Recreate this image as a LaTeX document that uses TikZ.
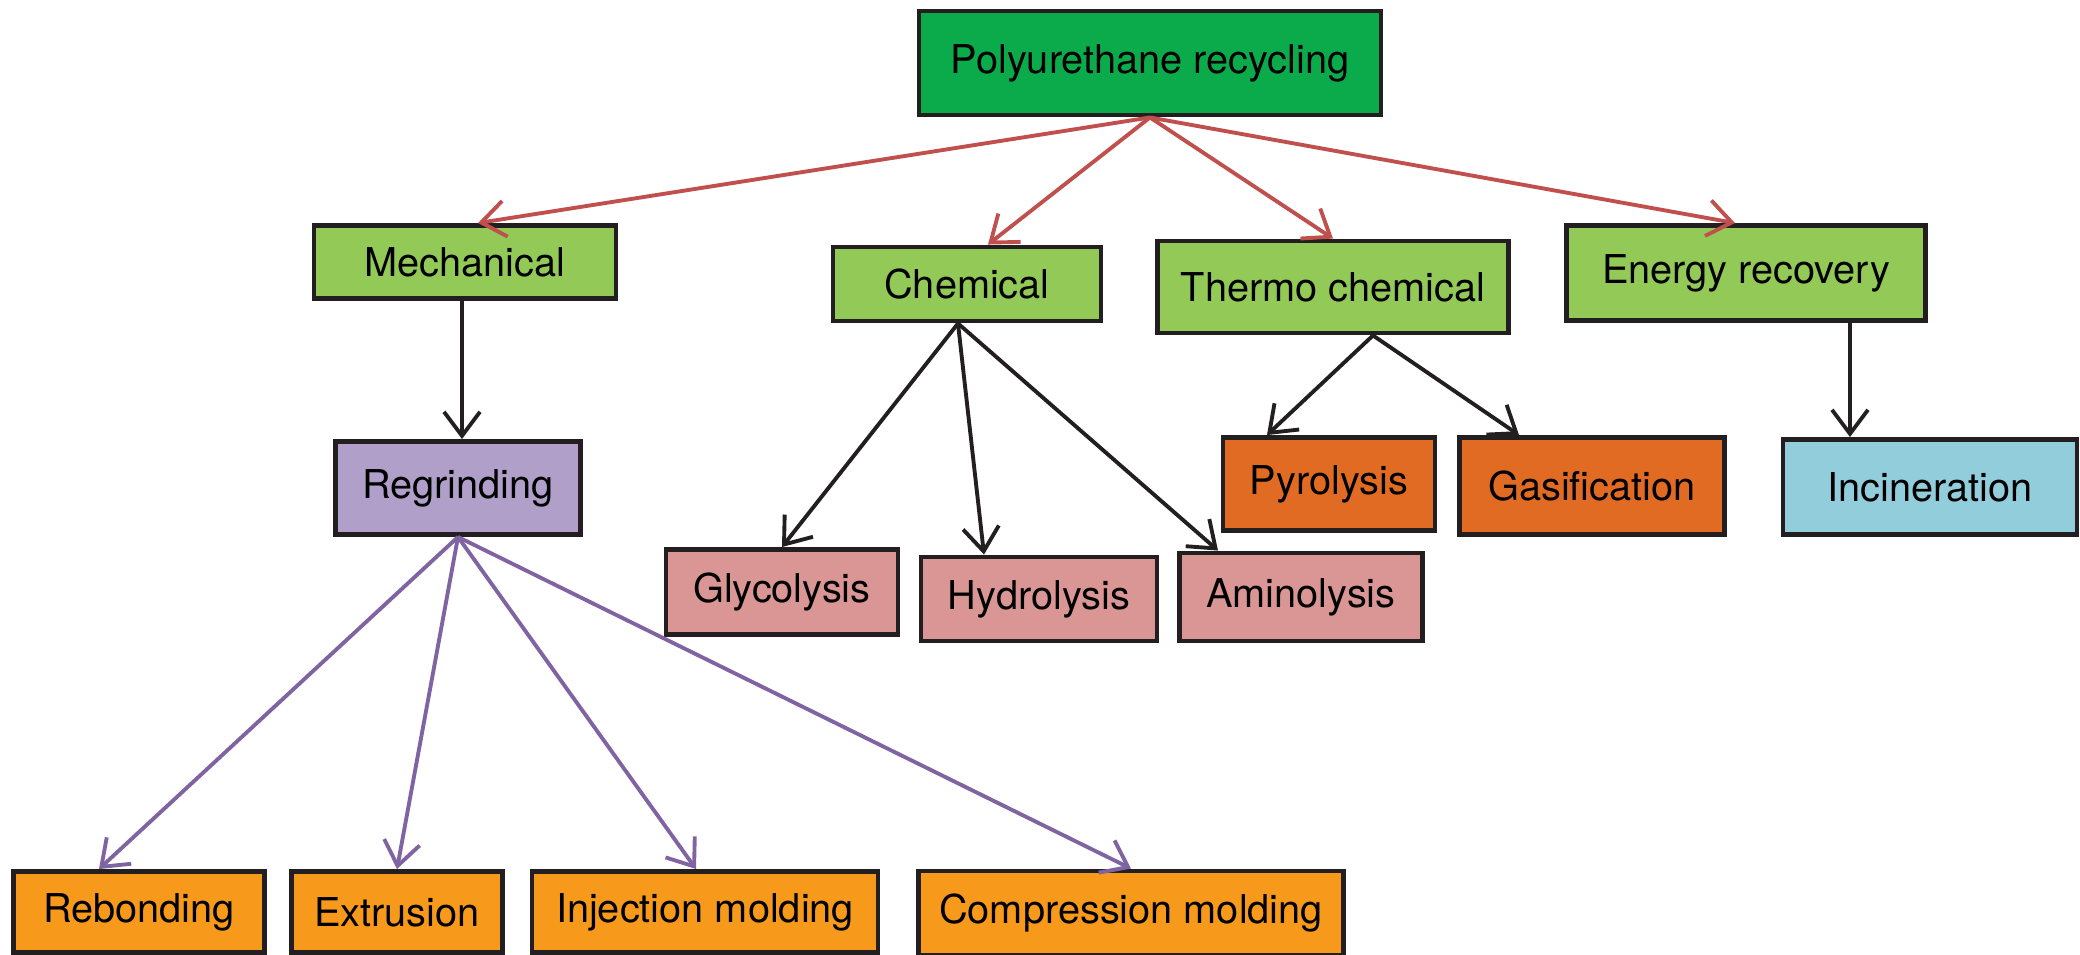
\documentclass[tikz,border=0pt]{standalone}
\usepackage{fontspec}
\setmainfont{TeX Gyre Heros}
\usetikzlibrary{arrows.meta}
\definecolor{rootgreen}{RGB}{11,170,75}
\definecolor{leafgreen}{RGB}{146,201,87}
\definecolor{lavender}{RGB}{176,159,200}
\definecolor{salmon}{RGB}{217,150,148}
\definecolor{rustorange}{RGB}{226,107,35}
\definecolor{skyblue}{RGB}{146,205,220}
\definecolor{amber}{RGB}{247,154,27}
\definecolor{redline}{RGB}{192,80,77}
\definecolor{purpleline}{RGB}{128,100,162}
\definecolor{darkline}{RGB}{35,31,32}

\begin{document}
\begin{tikzpicture}[
    box/.style={draw=darkline, line width=1.4pt, inner sep=0pt, font=\fontsize{11.3}{13}\selectfont},
    tip/.style={-{Straight Barb[length=2.4mm,width=3.6mm]}, line width=1.1pt}
]
    \useasboundingbox (0,0) rectangle (20.8,-9.55);

    % Root
    \node[box, fill=rootgreen, minimum width=4.62cm, minimum height=1.04cm] (poly) at (11.50,-0.63) {Polyurethane recycling};

    % Second level - recycling routes
    \node[box, fill=leafgreen, minimum width=3.02cm, minimum height=0.73cm] (mech) at (4.65,-2.62) {Mechanical};
    \node[box, fill=leafgreen, minimum width=2.68cm, minimum height=0.74cm] (chem) at (9.67,-2.84) {Chemical};
    \node[box, fill=leafgreen, minimum width=3.51cm, minimum height=0.92cm] (thermo) at (13.33,-2.87) {Thermo chemical};
    \node[box, fill=leafgreen, minimum width=3.59cm, minimum height=0.95cm] (energy) at (17.46,-2.73) {Energy recovery};

    % Third level
    \node[box, fill=lavender, minimum width=2.45cm, minimum height=0.93cm] (regrind) at (4.58,-4.88) {Regrinding};
    \node[box, fill=salmon, minimum width=2.32cm, minimum height=0.85cm] (glyco) at (7.82,-5.92) {Glycolysis};
    \node[box, fill=salmon, minimum width=2.36cm, minimum height=0.84cm] (hydro) at (10.39,-5.99) {Hydrolysis};
    \node[box, fill=salmon, minimum width=2.43cm, minimum height=0.88cm] (amino) at (13.01,-5.97) {Aminolysis};
    \node[box, fill=rustorange, minimum width=2.12cm, minimum height=0.93cm] (pyro) at (13.29,-4.84) {Pyrolysis};
    \node[box, fill=rustorange, minimum width=2.65cm, minimum height=0.97cm] (gasi) at (15.92,-4.86) {Gasification};
    \node[box, fill=skyblue, minimum width=2.94cm, minimum height=0.95cm] (incin) at (19.30,-4.87) {Incineration};

    % Bottom row - regrinding outlets
    \node[box, fill=amber, minimum width=2.51cm, minimum height=0.81cm] (rebond) at (1.39,-9.12) {Rebonding};
    \node[box, fill=amber, minimum width=2.11cm, minimum height=0.81cm] (extru) at (3.97,-9.12) {Extrusion};
    \node[box, fill=amber, minimum width=3.46cm, minimum height=0.81cm] (inject) at (7.05,-9.12) {Injection molding};
    \node[box, fill=amber, minimum width=4.25cm, minimum height=0.84cm] (compress) at (11.31,-9.13) {Compression molding};

    % Root arrows
    \draw[tip, redline] (poly.south) -- ([xshift=0.13cm]mech.north);
    \draw[tip, redline] (poly.south) -- ([xshift=0.21cm]chem.north);
    \draw[tip, redline] (poly.south) -- (thermo.north);
    \draw[tip, redline] (poly.south) -- ([xshift=-0.11cm]energy.north);

    % Route arrows
    \draw[tip, darkline] ([xshift=-0.03cm]mech.south) -- ([xshift=0.04cm]regrind.north);
    \draw[tip, darkline] ([xshift=-0.09cm]chem.south) -- (glyco.north);
    \draw[tip, darkline] ([xshift=-0.09cm]chem.south) -- ([xshift=-0.55cm]hydro.north);
    \draw[tip, darkline] ([xshift=-0.09cm]chem.south) -- ([xshift=-0.83cm]amino.north);
    \draw[tip, darkline] ([xshift=0.40cm]thermo.south) -- ([xshift=-0.62cm]pyro.north);
    \draw[tip, darkline] ([xshift=0.40cm]thermo.south) -- ([xshift=-0.73cm]gasi.north);
    \draw[tip, darkline] ([xshift=1.04cm]energy.south) -- ([xshift=-0.80cm]incin.north);

    % Regrinding arrows
    \draw[tip, purpleline] (regrind.south) -- ([xshift=-0.40cm]rebond.north);
    \draw[tip, purpleline] (regrind.south) -- (extru.north);
    \draw[tip, purpleline] (regrind.south) -- ([xshift=-0.09cm]inject.north);
    \draw[tip, purpleline] (regrind.south) -- (compress.north);
\end{tikzpicture}
\end{document}
